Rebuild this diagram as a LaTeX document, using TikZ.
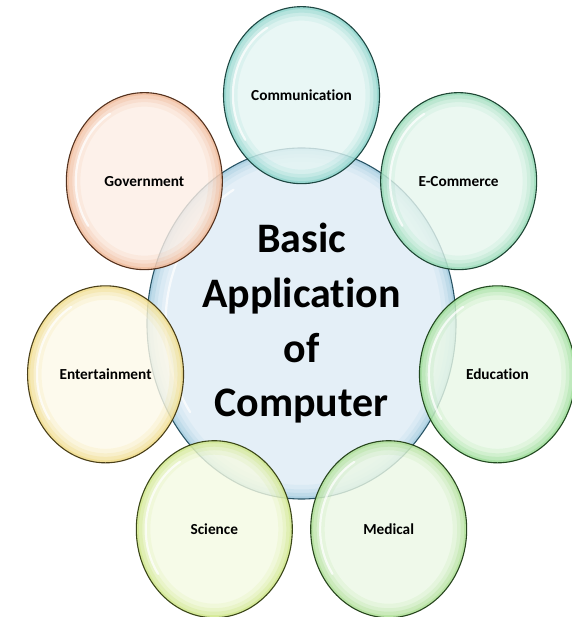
\documentclass[tikz,border=0pt]{standalone}
\usepackage{fontspec}
\setmainfont{Carlito}[Ligatures={NoCommon}]
\usetikzlibrary{shapes.geometric}

\definecolor{hubfill}{HTML}{DDEBF5}
\definecolor{hubrim}{HTML}{86BDD6}
\definecolor{hubline}{HTML}{2A5566}
\definecolor{commfill}{HTML}{E4F5F3}
\definecolor{commrim}{HTML}{62C5BA}
\definecolor{commline}{HTML}{1E4843}
\definecolor{ecomfill}{HTML}{E6F6EE}
\definecolor{ecomrim}{HTML}{72CF9F}
\definecolor{ecomline}{HTML}{1E4634}
\definecolor{edufill}{HTML}{E8F8E6}
\definecolor{edurim}{HTML}{7AD274}
\definecolor{eduline}{HTML}{224A20}
\definecolor{medfill}{HTML}{EBF8E5}
\definecolor{medrim}{HTML}{92D571}
\definecolor{medline}{HTML}{28461E}
\definecolor{scifill}{HTML}{F4FAE2}
\definecolor{scirim}{HTML}{C0DF62}
\definecolor{sciline}{HTML}{3B4718}
\definecolor{entfill}{HTML}{FDF9E8}
\definecolor{entrim}{HTML}{EBCF5C}
\definecolor{entline}{HTML}{4A3F18}
\definecolor{govfill}{HTML}{FCEEE5}
\definecolor{govrim}{HTML}{EDA275}
\definecolor{govline}{HTML}{55321E}

\tikzset{
  bubble/.style n args={5}{ellipse, draw=#3, line width=1.1pt, fill=#1,
    fill opacity=0.8, text opacity=1, inner sep=0pt,
    minimum width=#4, minimum height=#5,
    path picture={
      % soft rim, darker towards the border
      \foreach \w/\o in {28/0.10, 19/0.14, 12/0.2, 5/0.3}
        \draw[#2, line width=\w pt, opacity=\o] (path picture bounding box.center)
          ellipse [x radius=#4/2, y radius=#5/2];
      % gloss
      \draw[white, line width=2.2pt, opacity=0.75, line cap=round]
        (path picture bounding box.center) ++(120:{0.44*#4} and {0.44*#5})
        arc [start angle=120, end angle=215, x radius={0.44*#4}, y radius={0.44*#5}];
    }},
  topic/.style n args={3}{bubble={#1}{#2}{#3}{156pt}{177pt},
    font=\bfseries\fontsize{15.3}{18}\selectfont},
}

\begin{document}
\begin{tikzpicture}[x=1pt, y=1.136pt]
      \useasboundingbox (-301.5pt,-293.5pt) rectangle (269.5pt,323.5pt);
      \node[bubble={hubfill}{hubrim}{hubline}{309pt}{351pt}, align=center,
        font=\bfseries\fontsize{42}{54.7}\selectfont] (hub) at (0,0)
        {Basic\\Application\\of\\Computer};
      \path
        (90.00:201) node[topic={commfill}{commrim}{commline}] (comm) {Communication}
        (38.57:201) node[topic={ecomfill}{ecomrim}{ecomline}] (ecom) {E-Commerce}
        (-12.86:201) node[topic={edufill}{edurim}{eduline}] (edu) {Education}
        (-64.29:201) node[topic={medfill}{medrim}{medline}] (med) {Medical}
        (-115.71:201) node[topic={scifill}{scirim}{sciline}] (sci) {Science}
        (-167.14:201) node[topic={entfill}{entrim}{entline}] (ent) {Entertainment}
        (141.43:201) node[topic={govfill}{govrim}{govline}] (gov) {Government};
    \end{tikzpicture}
\end{document}
